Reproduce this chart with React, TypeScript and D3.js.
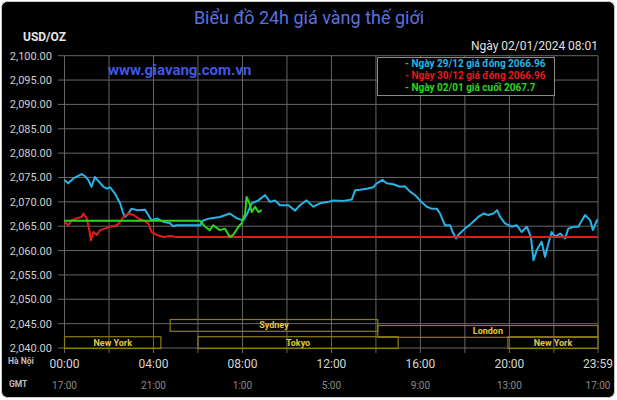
import { useMemo } from "react"
import * as d3 from "d3"

// price ticks (USD/OZ)
const yTicks = [2100, 2095, 2090, 2085, 2080, 2075, 2070, 2065, 2060, 2055, 2050, 2045, 2040]

// x axis labels, Hà Nội time and GMT
const hanoiLabels = ["00:00", "04:00", "08:00", "12:00", "16:00", "20:00", "23:59"]
const gmtLabels = ["17:00", "21:00", "1:00", "5:00", "9:00", "13:00", "17:00"]
const gridHours = ["00:00", "02:00", "04:00", "06:00", "08:00", "10:00", "12:00", "14:00", "16:00", "18:00", "20:00", "22:00", "23:59"]

// trading sessions: [name, start, end, row]
const sessions: [string, string, string, number][] = [
  ["Sydney", "04:45", "14:05", 0],
  ["London", "14:05", "23:59", 0.35],
  ["New York", "00:00", "04:20", 1],
  ["Tokyo", "06:00", "15:00", 1],
  ["New York", "19:56", "23:59", 1],
]

// Ngày 29/12
const series29: [string, number][] = [
  ["00:00", 2074.5], ["00:10", 2073.8], ["00:24", 2074.8], ["00:46", 2075.7], ["00:55", 2075.3],
  ["01:04", 2074.5], ["01:13", 2073.1], ["01:22", 2075.1], ["01:31", 2074.3], ["01:45", 2073.1],
  ["01:54", 2072.7], ["02:03", 2073.0], ["02:16", 2071.7], ["02:30", 2069.7], ["02:37", 2067.9],
  ["02:43", 2066.9], ["02:52", 2067.6], ["03:01", 2068.6], ["03:15", 2068.3], ["03:37", 2068.4],
  ["03:46", 2067.3], ["03:55", 2066.2], ["04:09", 2066.6], ["04:27", 2065.9], ["04:45", 2065.6],
  ["04:53", 2065.0], ["05:03", 2065.2], ["06:06", 2065.2], ["06:14", 2066.2], ["06:32", 2066.6],
  ["06:59", 2066.9], ["07:26", 2067.6], ["07:45", 2066.6], ["08:02", 2066.2], ["08:11", 2067.3],
  ["08:25", 2069.7], ["08:43", 2070.3], ["09:01", 2071.4], ["09:14", 2070.0], ["09:28", 2070.3],
  ["09:41", 2069.3], ["10:04", 2069.3], ["10:22", 2068.2], ["10:35", 2069.3], ["10:53", 2070.3],
  ["11:11", 2069.0], ["11:29", 2069.7], ["11:52", 2070.0], ["12:05", 2070.3], ["12:32", 2070.2],
  ["12:55", 2070.5], ["13:04", 2072.4], ["13:17", 2072.5], ["13:35", 2072.7], ["13:53", 2073.0],
  ["14:02", 2073.8], ["14:18", 2074.5], ["14:29", 2073.8], ["14:47", 2073.6], ["15:05", 2073.1],
  ["15:18", 2073.2], ["15:32", 2072.1], ["15:45", 2071.4], ["16:04", 2069.9], ["16:17", 2069.0],
  ["16:30", 2068.6], ["16:44", 2068.6], ["16:53", 2067.6], ["17:06", 2065.2], ["17:20", 2065.2],
  ["17:27", 2063.8], ["17:36", 2062.5], ["17:42", 2063.2], ["18:00", 2064.5], ["18:18", 2065.6],
  ["18:36", 2066.9], ["18:50", 2067.6], ["19:03", 2067.3], ["19:17", 2067.6], ["19:27", 2068.3],
  ["19:35", 2066.9], ["19:48", 2065.6], ["20:06", 2064.9], ["20:20", 2065.2], ["20:33", 2063.8],
  ["20:47", 2064.9], ["20:58", 2062.8], ["21:05", 2058.0], ["21:14", 2060.1], ["21:27", 2061.8],
  ["21:36", 2058.7], ["21:45", 2061.4], ["21:54", 2063.8], ["22:03", 2062.8], ["22:17", 2063.5],
  ["22:30", 2062.5], ["22:39", 2064.5], ["22:53", 2064.9], ["23:06", 2064.9], ["23:24", 2067.3],
  ["23:38", 2066.2], ["23:45", 2064.2], ["23:56", 2066.2], ["23:59", 2066.2],
]

// Ngày 30/12
const series30: [string, number][] = [
  ["00:01", 2065.9], ["00:10", 2065.2], ["00:19", 2066.2], ["00:33", 2066.6], ["00:46", 2066.9],
  ["00:51", 2067.6], ["01:00", 2066.6], ["01:07", 2064.2], ["01:11", 2062.1], ["01:18", 2063.8],
  ["01:27", 2063.2], ["01:36", 2064.2], ["01:49", 2064.5], ["02:03", 2064.9], ["02:21", 2065.2],
  ["02:30", 2065.9], ["02:39", 2066.9], ["02:52", 2067.6], ["03:06", 2067.3], ["03:19", 2066.6],
  ["03:33", 2066.2], ["03:46", 2065.6], ["03:55", 2063.8], ["04:09", 2063.2], ["04:27", 2062.8],
  ["04:45", 2063.0], ["05:03", 2062.8], ["23:59", 2062.8],
]

// Ngày 02/01
const series02: [string, number][] = [
  ["00:00", 2066.1], ["06:06", 2066.1], ["06:19", 2064.9], ["06:32", 2064.2], ["06:41", 2065.2],
  ["06:59", 2064.2], ["07:13", 2064.5], ["07:26", 2062.8], ["07:35", 2063.2], ["07:49", 2064.9],
  ["07:58", 2065.6], ["08:07", 2067.6], ["08:11", 2071.0], ["08:19", 2069.7], ["08:25", 2067.9],
  ["08:34", 2069.0], ["08:43", 2067.9], ["08:52", 2068.3],
]

const legendItems = [
  { label: "- Ngày 29/12 giá đóng 2066.96", color: "#27b3e6" },
  { label: "- Ngày 30/12 giá đóng 2066.96", color: "#e21c1c" },
  { label: "- Ngày 02/01 giá cuối 2067.7", color: "#2bd61e" },
]

const toMin = (s: string) => {
  const [h, m] = s.split(":").map(Number)
  return h * 60 + m
}

const FONT = "Roboto, 'Noto Sans', sans-serif"

export default function App() {
  const width = 617
  const height = 400

  const x = useMemo(() => d3.scaleLinear().domain([0, 1439]).range([64.5, 598]), [])
  const y = useMemo(() => d3.scaleLinear().domain([2040, 2100]).range([348, 55.7]), [])

  const line = d3
    .line<[string, number]>()
    .x((d) => x(toMin(d[0])))
    .y((d) => y(d[1]))

  const fmt = d3.format(",.2f")
  const rowTop = (r: number) => 319.5 + r * 17.2
  const boxH = 11.8

  return (
    <svg width={width} height={height} style={{ position: "fixed", left: 0, top: 0, display: "block" }} fontFamily={FONT}>
      <rect x={0} y={0} width={width} height={height} fill="#fff" />
      <rect x={1.5} y={1.5} width={613} height={396} rx={6} fill="#000" stroke="#c8c8c8" />

      {/* title and header texts */}
      <text x={309} y={24} textAnchor="middle" fontSize={18} fill="#5d6fe3">
        Biểu đồ 24h giá vàng thế giới
      </text>
      <text x={23} y={41} fontSize={12} fontWeight="bold" fill="#e6e6e6">
        USD/OZ
      </text>
      <text x={598} y={50} textAnchor="end" fontSize={12} fill="#e0e0e0">
        Ngày 02/01/2024 08:01
      </text>

      {/* horizontal grid */}
      {yTicks.map((t) => (
        <g key={t}>
          <line x1={58} x2={598} y1={y(t)} y2={y(t)} stroke="#666" strokeWidth={1} />
          <text x={52} y={y(t) + 4} textAnchor="end" fontSize={11} fill="#cfcfcf">
            {fmt(t)}
          </text>
        </g>
      ))}

      {/* vertical grid */}
      {gridHours.map((h) => (
        <line key={h} x1={x(toMin(h))} x2={x(toMin(h))} y1={55.7} y2={353} stroke="#666" strokeWidth={1} />
      ))}

      <text x={108} y={75} fontSize={15} fontWeight="bold" fill="#4056e4">
        www.giavang.com.vn
      </text>

      {/* sessions */}
      {sessions.map(([name, s, e, r], i) => {
        const x0 = x(toMin(s))
        const x1 = x(toMin(e))
        const top = rowTop(r)
        return (
          <g key={i}>
            <rect x={x0} y={top} width={x1 - x0} height={boxH} fill="none" stroke="#8c7c10" strokeWidth={1.2} />
            <text x={(x0 + x1) / 2} y={top + 8.8} textAnchor="middle" fontSize={9} fontWeight="bold" fill="#e2c83a">
              {name}
            </text>
          </g>
        )
      })}

      {/* price lines */}
      <path d={line(series29) ?? ""} fill="none" stroke="#27b3e6" strokeWidth={2} strokeLinejoin="round" />
      <path d={line(series30) ?? ""} fill="none" stroke="#e21c1c" strokeWidth={2} strokeLinejoin="round" />
      <path d={line(series02) ?? ""} fill="none" stroke="#2bd61e" strokeWidth={2} strokeLinejoin="round" />

      {/* legend */}
      <rect x={377.5} y={57.5} width={177} height={38} fill="#000" stroke="#8a8a8a" />
      {legendItems.map((d, i) => (
        <text key={d.label} x={405} y={66.8 + i * 12} fontSize={10} fontWeight="bold" fill={d.color}>
          {d.label}
        </text>
      ))}

      {/* x labels */}
      <text x={8} y={364} fontSize={8.5} fontWeight="bold" fill="#bdbdbd">
        Hà Nội
      </text>
      <text x={9} y={387} fontSize={8.5} fontWeight="bold" fill="#bdbdbd">
        GMT
      </text>
      {hanoiLabels.map((h) => (
        <text key={h} x={x(toMin(h))} y={367.5} textAnchor="middle" fontSize={12} fill="#d6d6d6">
          {h}
        </text>
      ))}
      {gmtLabels.map((g, i) => (
        <text key={i} x={x(toMin(hanoiLabels[i]))} y={389} textAnchor="middle" fontSize={10} fill="#8a8a8a">
          {g}
        </text>
      ))}
    </svg>
  )
}
